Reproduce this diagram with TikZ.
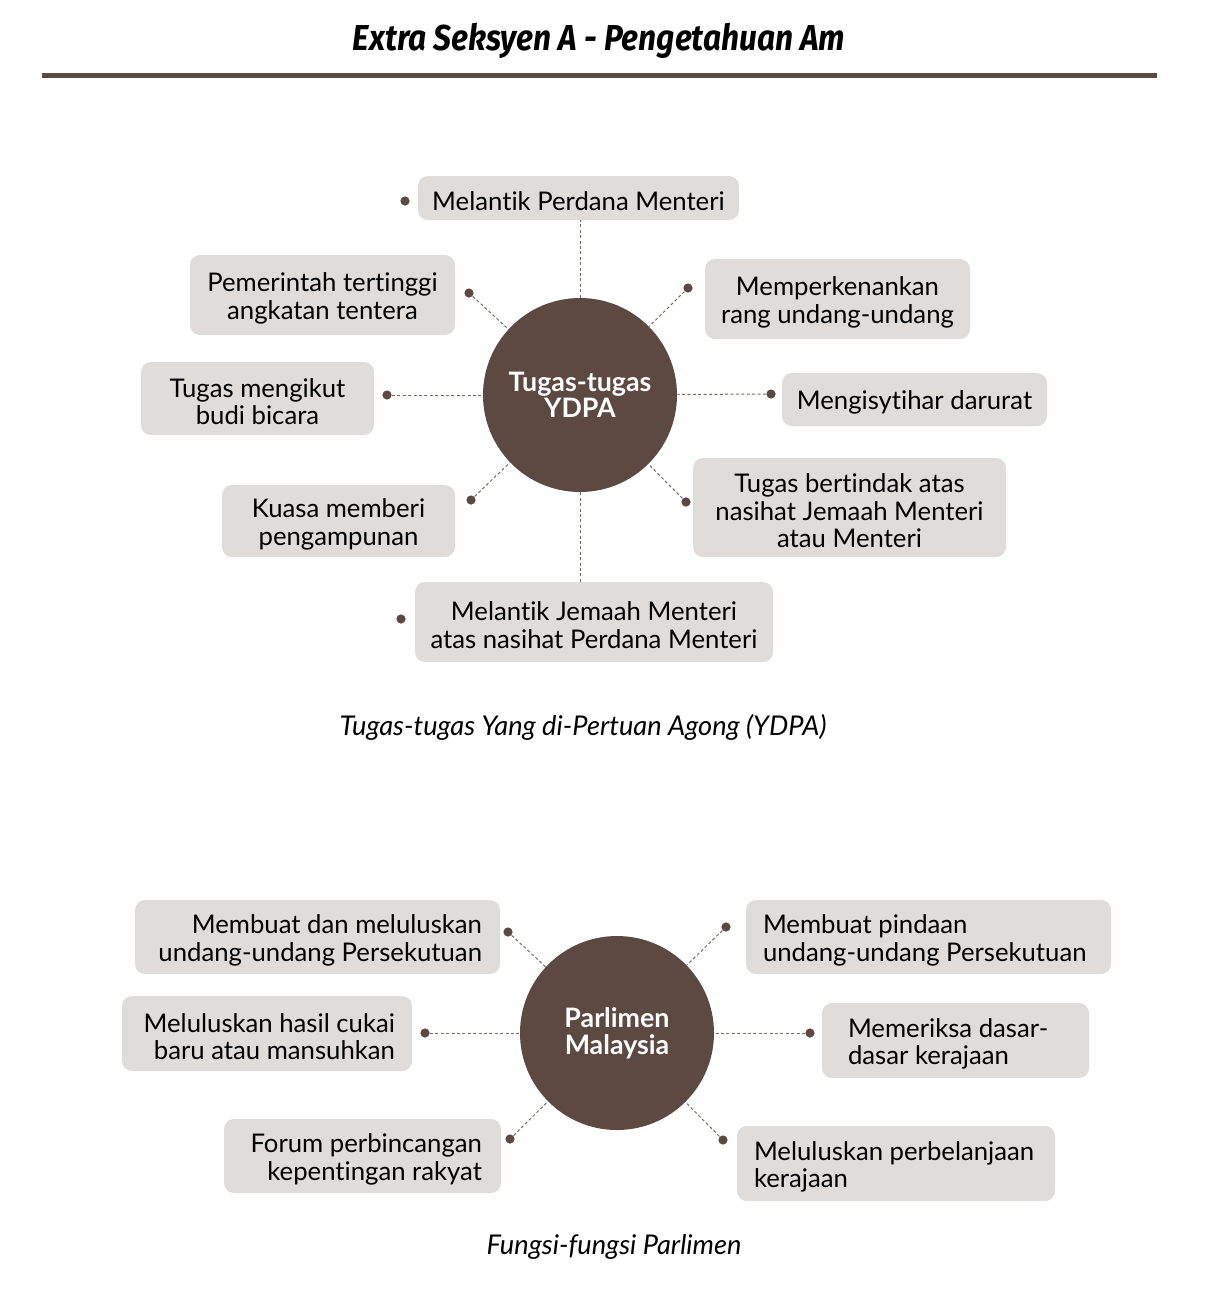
\documentclass[tikz,border=0pt]{standalone}
\usepackage{fontspec}
\setmainfont{Lato}[Ligatures={NoCommon}]
\newfontfamily\titlefont{Fira Sans}
\definecolor{brn}{HTML}{5C4942}
\definecolor{boxg}{HTML}{E0DCDA}
\definecolor{dashc}{HTML}{7A6A64}
\begin{document}
\begin{tikzpicture}[x=0.5pt,y=-0.5pt,
  gbox/.style={fill=boxg, rounded corners=5pt, inner sep=0pt},
  btext/.style={inner sep=0pt, font=\fontsize{12.85}{13.7}\selectfont, text=black},
  ctext/.style={btext, align=center, yshift=-1.6pt},
  rtext/.style={btext, align=right, anchor=east, yshift=-1.6pt},
  ltext/.style={btext, align=left, anchor=west, yshift=-1.6pt},
  hub/.style={circle, fill=brn, minimum size=97pt, inner sep=0pt, text=white, font=\fontsize{13.4}{13.3}\selectfont\bfseries, align=center},
  dot/.style={circle, fill=brn, minimum size=4.6pt, inner sep=0pt},
  conn/.style={draw=dashc, line width=0.5pt, dash pattern=on 1.5pt off 1.2pt},
  caption/.style={font=\fontsize{13.6}{15}\selectfont\itshape, text=black}]
\useasboundingbox (0,0) rectangle (1214,1302);

% title
\node (title) at (599,41) {\scalebox{0.88}[1]{\titlefont\fontsize{18}{21}\selectfont\bfseries\itshape Extra Seksyen A - Pengetahuan Am}};
\fill[brn] (42,72.5) rectangle (1157,77.5);

% ---------- YDPA ----------
\node[hub] (c1) at (580,395) {Tugas-tugas\\YDPA};

\node[gbox, minimum width=160.5pt, minimum height=22pt] (b1) at (578.5,198) {};
\node[gbox, minimum width=132.5pt, minimum height=40pt] (b2) at (322.5,295) {};
\node[gbox, minimum width=132.5pt, minimum height=40pt] (b3) at (837.5,299) {};
\node[gbox, minimum width=116.5pt, minimum height=36.5pt] (b4) at (257.5,398.5) {};
\node[gbox, minimum width=132.5pt, minimum height=26.5pt] (b5) at (914.5,399.5) {};
\node[gbox, minimum width=116.5pt, minimum height=36pt] (b6) at (338.5,521) {};
\node[gbox, minimum width=156.5pt, minimum height=49.5pt] (b7) at (849.5,507.5) {};
\node[gbox, minimum width=179pt, minimum height=40pt] (b8) at (594,622) {};

\node[ctext] (b1t) at (b1) {Melantik Perdana Menteri};
\node[ctext] (b2t) at (b2) {Pemerintah tertinggi\\angkatan tentera};
\node[ctext] (b3t) at (b3) {Memperkenankan\\rang undang-undang};
\node[ctext] (b4t) at (b4) {Tugas mengikut\\budi bicara};
\node[ctext] (b5t) at (b5) {Mengisytihar darurat};
\node[ctext] (b6t) at (b6) {Kuasa memberi\\pengampunan};
\node[ctext] (b7t) at (b7) {Tugas bertindak atas\\nasihat Jemaah Menteri\\atau Menteri};
\node[ctext] (b8t) at (b8) {Melantik Jemaah Menteri\\atas nasihat Perdana Menteri};

\node[dot] (d1) at (405,201) {};
\node[dot] (d2) at (469,293) {};
\node[dot] (d3) at (688,288) {};
\node[dot] (d4) at (387,395) {};
\node[dot] (d5) at (771,394) {};
\node[dot] (d6) at (471,500) {};
\node[dot] (d7) at (686,502) {};
\node[dot] (d8) at (401,619) {};

\draw[conn] (c1.north) -- (c1.north |- b1.south);
\draw[conn] (c1.south) -- (c1.south |- b8.north);
\foreach \d in {d2,d3,d4,d5,d6,d7} \draw[conn] (\d) -- (c1);

\node[caption] (cap1) at (583,727) {Tugas-tugas Yang di-Pertuan Agong (YDPA)};

% ---------- Parlimen ----------
\node[hub] (c2) at (617,1033) {Parlimen\\Malaysia};

\node[gbox, minimum width=182.5pt, minimum height=37pt] (p1) at (317.5,937) {};
\node[gbox, minimum width=182.5pt, minimum height=37pt] (p2) at (928.5,937) {};
\node[gbox, minimum width=145pt, minimum height=37.5pt] (p3) at (267,1033.5) {};
\node[gbox, minimum width=133.5pt, minimum height=37.5pt] (p4) at (955.5,1040.5) {};
\node[gbox, minimum width=138.5pt, minimum height=37pt] (p5) at (362.5,1156) {};
\node[gbox, minimum width=159pt, minimum height=37.5pt] (p6) at (896,1163.5) {};

\node[rtext] (p1t) at ([xshift=-9pt]p1.east) {Membuat dan meluluskan\\undang-undang Persekutuan};
\node[ltext] (p2t) at ([xshift=8.5pt]p2.west) {Membuat pindaan\\undang-undang Persekutuan};
\node[rtext] (p3t) at ([xshift=-8.5pt]p3.east) {Meluluskan hasil cukai\\baru atau mansuhkan};
\node[ltext] (p4t) at ([xshift=13pt]p4.west) {Memeriksa dasar-\\dasar kerajaan};
\node[rtext] (p5t) at ([xshift=-9.5pt]p5.east) {Forum perbincangan\\kepentingan rakyat};
\node[ltext] (p6t) at ([xshift=8.5pt]p6.west) {Meluluskan perbelanjaan\\kerajaan};

\node[dot] (e1) at (508,932) {};
\node[dot] (e2) at (726,927) {};
\node[dot] (e3) at (425,1033) {};
\node[dot] (e4) at (810,1033) {};
\node[dot] (e5) at (510,1139) {};
\node[dot] (e6) at (723,1140) {};

\foreach \d in {e1,e2,e3,e4,e5,e6} \draw[conn] (\d) -- (c2);

\node[caption] (cap2) at (614,1247) {Fungsi-fungsi Parlimen};
\end{tikzpicture}
\end{document}
